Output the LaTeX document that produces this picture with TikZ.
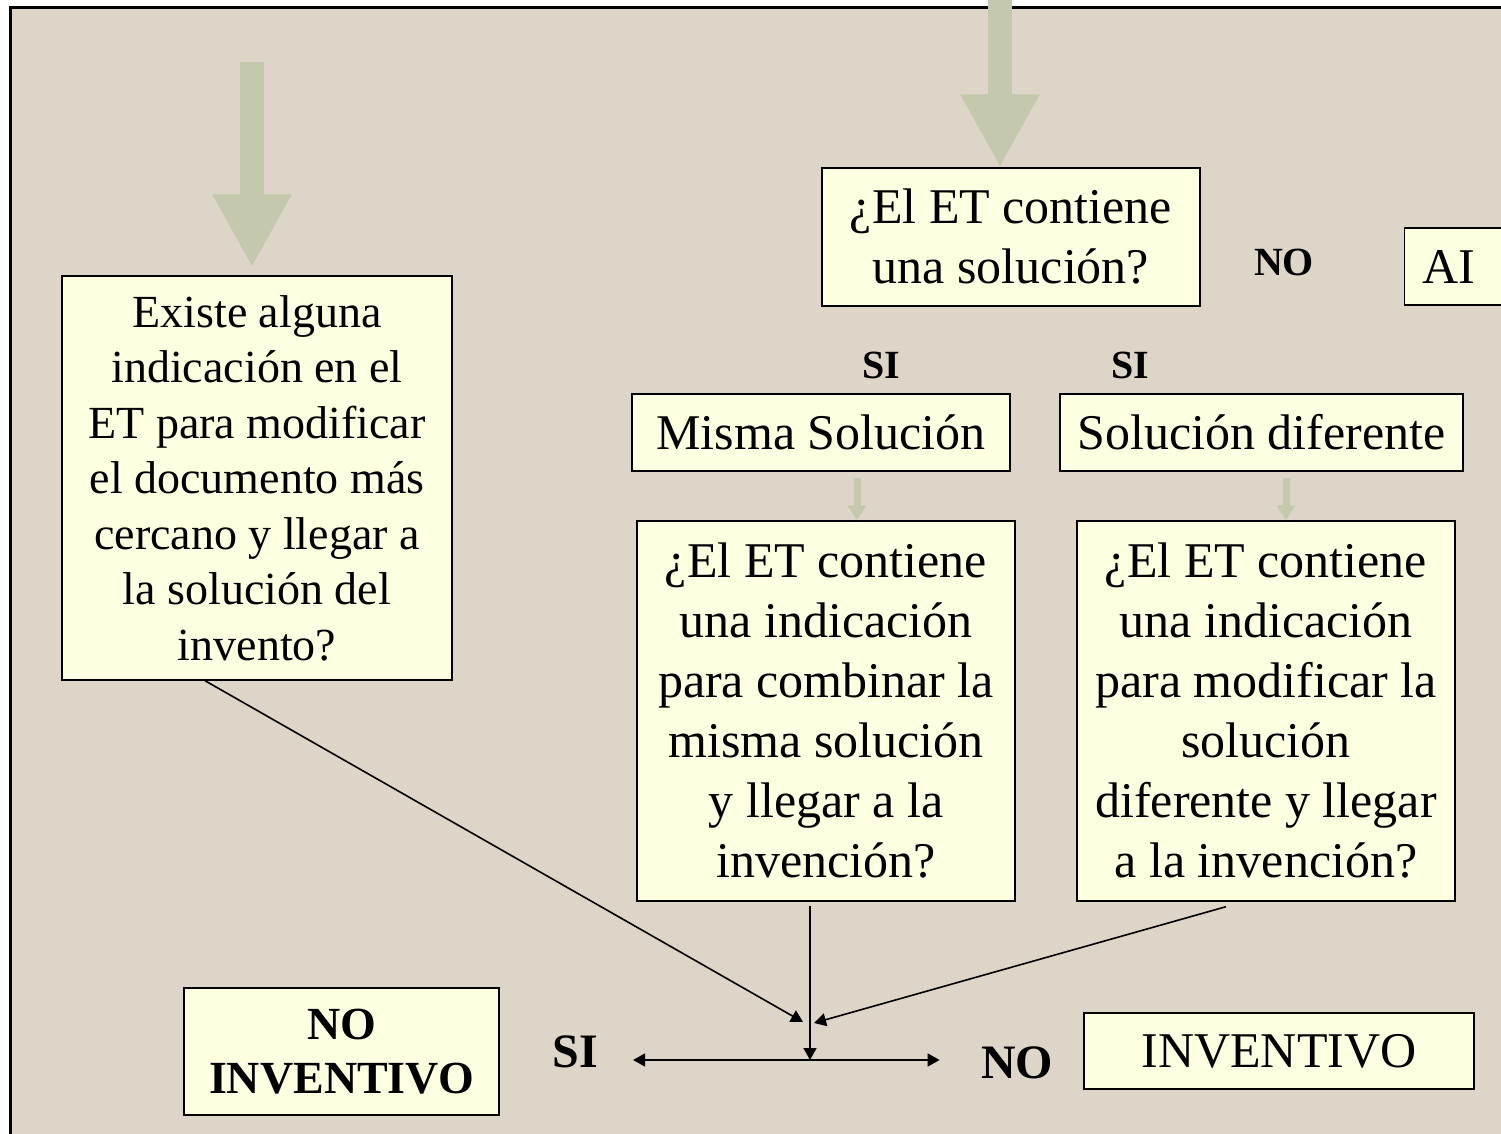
\documentclass[tikz,border=0pt]{standalone}
\usepackage{fontspec}
\setmainfont{Liberation Serif}
\usetikzlibrary{arrows.meta, positioning}
\definecolor{fondo}{RGB}{221,213,199}
\definecolor{colorcaja}{RGB}{255,255,225}
\definecolor{verdegris}{RGB}{196,201,173}
\newcommand{\letragrande}{\fontsize{25}{30}\selectfont}
\newcommand{\letramedia}{\fontsize{23}{27.75}\selectfont}
\newcommand{\letrachica}{\fontsize{20}{24}\selectfont}

\begin{document}
\begin{tikzpicture}[x=0.5pt, y=-0.5pt,
  caja/.style={draw=black, line width=0.7pt, fill=colorcaja, align=center, inner sep=0pt, font=\letragrande},
  etiqueta/.style={font=\bfseries\fontsize{24}{28}\selectfont, inner sep=0pt},
  flechagorda/.style={verdegris, line width=12pt, -{Triangle[width=37pt,length=36.5pt]}},
  flechita/.style={verdegris, line width=3.5pt, -{Triangle[width=9pt,length=7.5pt]}},
  conector/.style={black, line width=0.8pt, -{Triangle[width=6.5pt,length=6pt]}}]
\clip (0,0) rectangle (1501,1134);
\fill[white] (0,0) rectangle (1501,1134);
\fill[fondo] (10,8) rectangle (1501,1134);
\draw[line width=1.5pt] (10,1140) -- (10,8) -- (1510,8);

% cajas
\node[caja, font=\letramedia, minimum width=195pt, minimum height=202pt] (pregunta) at (257,478)
  {Existe alguna\\indicación en el\\ET para modificar\\el documento más\\cercano y llegar a\\la solución del\\invento?};
\node[caja, minimum width=189pt, minimum height=69pt] (contiene) at (1011,237) {¿El ET contiene\\una solución?};
\node[caja, anchor=west, text width=40pt, inner xsep=9pt, align=left, minimum height=38.5pt] (ai) at (1404,266.5) {AI};
\node[caja, minimum width=189pt, minimum height=38.5pt] (misma) at (821,432.5) {Misma Solución};
\node[caja, minimum width=201.5pt, minimum height=38.5pt] (diferente) at (1261.5,432.5) {Solución diferente};
\node[caja, minimum width=189pt, minimum height=190pt] (combinar) at (826,711)
  {¿El ET contiene\\una indicación\\para combinar la\\misma solución\\y llegar a la\\invención?};
\node[caja, minimum width=189pt, minimum height=190pt] (modificar) at (1266,711)
  {¿El ET contiene\\una indicación\\para modificar la\\solución\\diferente y llegar\\a la invención?};
\node[caja, font=\bfseries\fontsize{23}{27}\selectfont, minimum width=157.5pt, minimum height=63.5pt] (noinventivo) at (341.5,1051.5) {NO\\INVENTIVO};
\node[caja, minimum width=195pt, minimum height=38pt] (inventivo) at (1279,1051) {INVENTIVO};

% etiquetas
\node[etiqueta, font=\bfseries\letrachica] (noarriba) at (1284,262) {NO};
\node[etiqueta, font=\bfseries\letrachica] (simisma) at (881,365) {SI};
\node[etiqueta, font=\bfseries\letrachica] (sidiferente) at (1130,365) {SI};
\node[etiqueta] (si) at (575,1052) {SI};
\node[etiqueta] (no) at (1017,1063) {NO};

\coordinate (entradaA) at (252,62);
\coordinate (entradaB) at (1000,0);
\coordinate (cruce) at (810,1060);
\coordinate (llegadaA) at (803,1022);
\coordinate (llegadaB) at (814,1023);

% flechas
\draw[flechagorda, shorten >=4pt] (entradaA) -- (entradaA |- pregunta.north);
\draw[flechagorda] (entradaB) -- (entradaB |- contiene.north);
\draw[flechita] ([xshift=18pt,yshift=-3pt]misma.south) -- ([xshift=18pt]misma.south |- combinar.north);
\draw[flechita] ([xshift=12.25pt,yshift=-3pt]diferente.south) -- ([xshift=12.25pt]diferente.south |- modificar.north);
\draw[conector] ([xshift=-26pt]pregunta.south) -- (llegadaA);
\draw[conector] ([xshift=-20pt,yshift=-2.5pt]modificar.south) -- (llegadaB);
\draw[conector] ([yshift=-2pt]combinar.south -| cruce) -- (cruce);
\draw[conector, {Triangle[width=6.5pt,length=6pt]}-{Triangle[width=6.5pt,length=6pt]}, shorten <=17.5pt, shorten >=20.5pt]
  (si.east |- cruce) -- (no.west |- cruce);
\end{tikzpicture}
\end{document}
